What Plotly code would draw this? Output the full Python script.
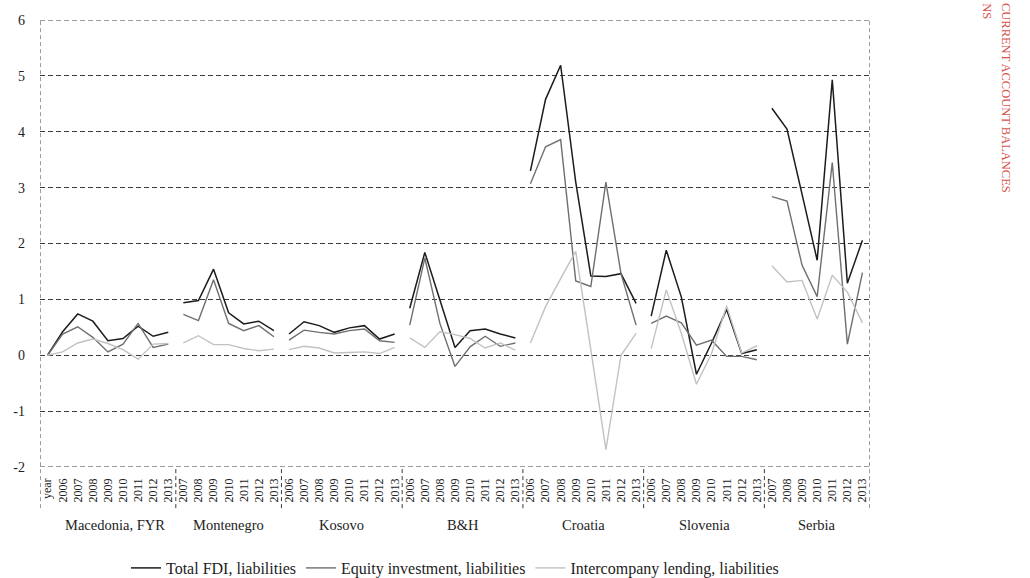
import plotly.graph_objects as go

# FDI liabilities by country and year (% of GDP)
countries = ["Macedonia, FYR", "Montenegro", "Kosovo", "B&H", "Croatia", "Slovenia", "Serbia"]

years = [
    ["year", "2006", "2007", "2008", "2009", "2010", "2011", "2012", "2013"],
    ["2007", "2008", "2009", "2010", "2011", "2012", "2013"],
    ["2006", "2007", "2008", "2009", "2010", "2011", "2012", "2013"],
    ["2006", "2007", "2008", "2009", "2010", "2011", "2012", "2013"],
    ["2006", "2007", "2008", "2009", "2010", "2011", "2012", "2013"],
    ["2006", "2007", "2008", "2009", "2010", "2011", "2012", "2013"],
    ["2007", "2008", "2009", "2010", "2011", "2012", "2013"],
]

total_fdi = [
    [0, 0.42, 0.74, 0.61, 0.26, 0.30, 0.52, 0.34, 0.41],
    [0.94, 0.98, 1.54, 0.76, 0.56, 0.61, 0.44],
    [0.38, 0.60, 0.53, 0.41, 0.49, 0.53, 0.29, 0.38],
    [0.84, 1.84, 0.99, 0.14, 0.44, 0.47, 0.38, 0.31],
    [3.30, 4.58, 5.19, 3.10, 1.42, 1.41, 1.46, 0.93],
    [0.70, 1.88, 1.04, -0.34, 0.22, 0.82, 0.03, 0.10],
    [4.42, 4.05, 2.88, 1.70, 4.93, 1.29, 2.06],
]

equity_investment = [
    [0, 0.38, 0.51, 0.32, 0.06, 0.20, 0.57, 0.14, 0.20],
    [0.73, 0.62, 1.35, 0.57, 0.44, 0.53, 0.33],
    [0.27, 0.45, 0.41, 0.38, 0.44, 0.47, 0.26, 0.23],
    [0.54, 1.74, 0.57, -0.20, 0.15, 0.34, 0.16, 0.22],
    [3.07, 3.73, 3.86, 1.33, 1.23, 3.10, 1.46, 0.54],
    [0.57, 0.70, 0.58, 0.18, 0.27, -0.02, -0.02, -0.08],
    [2.84, 2.76, 1.61, 1.05, 3.45, 0.20, 1.48],
]

intercompany_lending = [
    [0, 0.06, 0.22, 0.29, 0.21, 0.10, -0.07, 0.20, 0.21],
    [0.22, 0.35, 0.19, 0.19, 0.12, 0.08, 0.11],
    [0.10, 0.16, 0.13, 0.04, 0.05, 0.06, 0.03, 0.14],
    [0.31, 0.14, 0.42, 0.37, 0.30, 0.13, 0.22, 0.09],
    [0.22, 0.87, 1.37, 1.86, 0.10, -1.69, 0.00, 0.39],
    [0.12, 1.17, 0.39, -0.52, 0.03, 0.88, 0.04, 0.17],
    [1.60, 1.31, 1.34, 0.65, 1.43, 1.13, 0.58],
]

y_ticks = [-2, -1, 0, 1, 2, 3, 4, 5, 6]
y_tick_text = ["-2", "-1", "0", "1", "2", "3", "4", "5", "6"]

series = [
    ("Total FDI, liabilities", total_fdi, "#1c1c1c", 1.5),
    ("Equity investment, liabilities", equity_investment, "#6f6f6f", 1.4),
    ("Intercompany lending, liabilities", intercompany_lending, "#c2c2c2", 1.4),
]

SERIF = "Liberation Serif"
TEXT = "#222222"
GRID = "#3a3a3a"
DASH = "5px,3px"

# category positions along the x axis, group by group
positions = []
start = 0
for ys in years:
    positions.append(list(range(start, start + len(ys))))
    start += len(ys)
n_cat = start
tick_vals = [p for grp in positions for p in grp]
tick_text = [y for ys in years for y in ys]

fig = go.Figure()
for name, data, color, width in series:
    for g, (xs, vals) in enumerate(zip(positions, data)):
        fig.add_trace(go.Scatter(
            x=xs, y=vals, mode="lines", name=name,
            line=dict(color=color, width=width),
            legendgroup=name, showlegend=(g == 0),
            hoverinfo="skip",
        ))

# dashed frame lines at the top and bottom of the value range
shapes = []
for yv in (y_ticks[0], y_ticks[-1]):
    shapes.append(dict(
        type="line", xref="paper", yref="y", x0=0, x1=1, y0=yv, y1=yv,
        line=dict(color=GRID, width=1, dash=DASH),
    ))

# dashed dividers between country groups, extending below the axis
label_depth = -0.092
boundaries = [-0.5] + [grp[-1] + 0.5 for grp in positions]
for i, b in enumerate(boundaries):
    edge = i == 0 or i == len(boundaries) - 1
    shapes.append(dict(
        type="line", xref="x", yref="paper", x0=b, x1=b,
        y0=label_depth, y1=1 if edge else 0,
        line=dict(color=GRID, width=1, dash="4px,3px"),
    ))

annotations = []
for name, xs, ys in zip(countries, positions, years):
    span = [x for x, y in zip(xs, ys) if y != "year"]
    annotations.append(dict(
        x=(span[0] + span[-1]) / 2, y=-0.13, xref="x", yref="paper",
        text=name, showarrow=False, xanchor="center", yanchor="middle",
        font=dict(family=SERIF, size=14.5, color=TEXT),
    ))

# running header on the page margin
RED = "#d6524a"
annotations.append(dict(
    x=1.163, y=1.042, xref="paper", yref="paper", text="CURRENT ACCOUNT BALANCES",
    showarrow=False, textangle=90, xanchor="center", yanchor="top",
    font=dict(family=SERIF, size=12.5, color=RED),
))
annotations.append(dict(
    x=1.141, y=1.042, xref="paper", yref="paper", text="NS",
    showarrow=False, textangle=90, xanchor="center", yanchor="top",
    font=dict(family=SERIF, size=12.5, color=RED),
))

fig.update_layout(
    width=1030, height=578,
    margin=dict(l=40, r=160, t=20, b=111, autoexpand=False),
    paper_bgcolor="white", plot_bgcolor="white",
    font=dict(family=SERIF, color=TEXT),
    xaxis=dict(
        range=[-0.5, n_cat - 0.5], automargin=False,
        tickmode="array", tickvals=tick_vals, ticktext=tick_text,
        tickangle=-90, tickfont=dict(family=SERIF, size=12, color=TEXT),
        showgrid=False, zeroline=False, showline=False, ticks="",
        ticklabelstandoff=8,
    ),
    yaxis=dict(
        range=[-2, 6], automargin=False,
        tickmode="array", tickvals=y_ticks, ticktext=y_tick_text,
        tickfont=dict(family=SERIF, size=14, color=TEXT),
        showgrid=True, gridcolor=GRID, gridwidth=1, griddash=DASH,
        zeroline=False, showline=False, ticks="", ticklabelstandoff=14,
    ),
    legend=dict(
        orientation="h", x=0.5, xanchor="center",
        yref="container", y=0.0173, yanchor="middle",
        font=dict(family=SERIF, size=16, color=TEXT),
        itemwidth=30, bgcolor="rgba(0,0,0,0)",
    ),
    shapes=shapes,
    annotations=annotations,
)

fig.write_html("out.html")
